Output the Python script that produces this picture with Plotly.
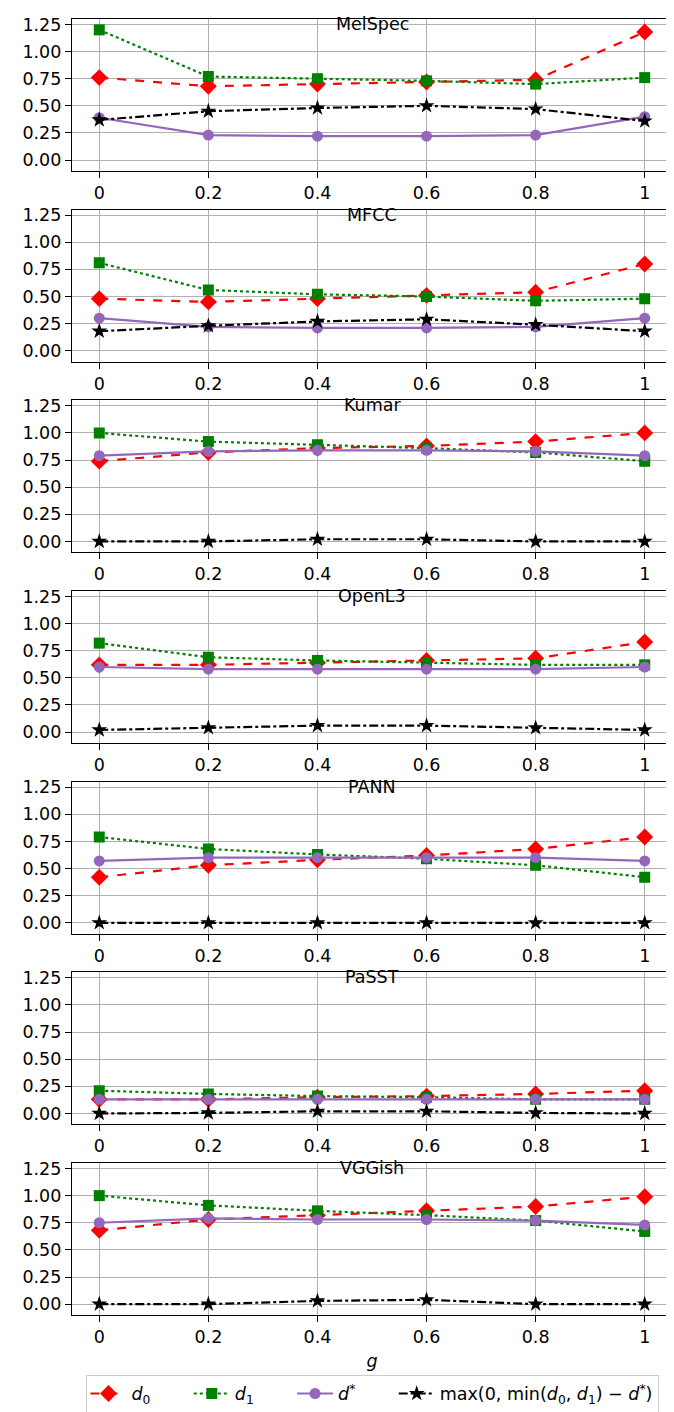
import plotly.graph_objects as go
from plotly.subplots import make_subplots

g = [0, 0.2, 0.4, 0.6, 0.8, 1]
g_labels = ["0", "0.2", "0.4", "0.6", "0.8", "1"]
y_ticks = [0, 0.25, 0.5, 0.75, 1.0, 1.25]
y_labels = ["0.00", "0.25", "0.50", "0.75", "1.00", "1.25"]

panels = ["MelSpec", "MFCC", "Kumar", "OpenL3", "PANN", "PaSST", "VGGish"]

d0 = {
    "MelSpec": [0.76, 0.68, 0.70, 0.72, 0.74, 1.18],
    "MFCC":    [0.48, 0.45, 0.48, 0.51, 0.54, 0.80],
    "Kumar":   [0.74, 0.82, 0.86, 0.88, 0.92, 1.00],
    "OpenL3":  [0.62, 0.62, 0.64, 0.66, 0.68, 0.83],
    "PANN":    [0.42, 0.53, 0.58, 0.62, 0.68, 0.79],
    "PaSST":   [0.13, 0.13, 0.15, 0.16, 0.18, 0.21],
    "VGGish":  [0.68, 0.78, 0.82, 0.86, 0.90, 0.99],
}
d1 = {
    "MelSpec": [1.20, 0.77, 0.75, 0.73, 0.70, 0.76],
    "MFCC":    [0.81, 0.56, 0.52, 0.50, 0.46, 0.48],
    "Kumar":   [1.00, 0.92, 0.89, 0.86, 0.82, 0.74],
    "OpenL3":  [0.82, 0.69, 0.66, 0.64, 0.62, 0.62],
    "PANN":    [0.79, 0.68, 0.63, 0.59, 0.53, 0.42],
    "PaSST":   [0.21, 0.18, 0.16, 0.15, 0.13, 0.13],
    "VGGish":  [1.00, 0.91, 0.86, 0.82, 0.77, 0.67],
}
dstar = {
    "MelSpec": [0.39, 0.23, 0.22, 0.22, 0.23, 0.40],
    "MFCC":    [0.30, 0.22, 0.21, 0.21, 0.22, 0.30],
    "Kumar":   [0.79, 0.83, 0.84, 0.84, 0.83, 0.79],
    "OpenL3":  [0.60, 0.58, 0.58, 0.58, 0.58, 0.60],
    "PANN":    [0.57, 0.60, 0.60, 0.60, 0.60, 0.57],
    "PaSST":   [0.13, 0.13, 0.13, 0.13, 0.13, 0.13],
    "VGGish":  [0.75, 0.79, 0.78, 0.78, 0.77, 0.73],
}
gap = {
    "MelSpec": [0.37, 0.45, 0.48, 0.50, 0.47, 0.36],
    "MFCC":    [0.18, 0.23, 0.27, 0.29, 0.24, 0.18],
    "Kumar":   [0.00, 0.00, 0.02, 0.02, 0.00, 0.00],
    "OpenL3":  [0.02, 0.04, 0.06, 0.06, 0.04, 0.02],
    "PANN":    [0.00, 0.00, 0.00, 0.00, 0.00, 0.00],
    "PaSST":   [0.00, 0.005, 0.02, 0.02, 0.005, 0.00],
    "VGGish":  [0.00, 0.00, 0.03, 0.04, 0.00, 0.00],
}

PAD = "\u00a0" * 6
names = [
    "<i>d</i><sub>0</sub>" + PAD,
    "<i>d</i><sub>1</sub>" + PAD,
    "<i>d</i><sup>*</sup>" + PAD,
    "max(0, min(<i>d</i><sub>0</sub>, <i>d</i><sub>1</sub>) − <i>d</i><sup>*</sup>)",
]
styles = [
    dict(color="#ff0000", dash="dash", symbol="diamond", size=13),
    dict(color="#008000", dash="dot", symbol="square", size=11),
    dict(color="#9467bd", dash="solid", symbol="circle", size=11),
    dict(color="#000000", dash="dashdot", symbol="star", size=12),
]
series = [d0, d1, dstar, gap]

n = len(panels)
fig = make_subplots(rows=n, cols=1, vertical_spacing=0.0299)

FONT = "DejaVu Sans"
FS = 17.5

for i, p in enumerate(panels):
    r = i + 1
    for k, (s, st) in enumerate(zip(series, styles)):
        fig.add_trace(
            go.Scatter(
                x=g, y=s[p], mode="lines+markers", name=names[k],
                line=dict(color=st["color"], dash=st["dash"], width=2.2),
                marker=dict(symbol=st["symbol"], size=st["size"], color=st["color"],
                            line=dict(width=0)),
                showlegend=(i == 0), legendgroup=str(k),
            ),
            row=r, col=1,
        )
    xref = "x domain" if r == 1 else f"x{r} domain"
    yref = "y domain" if r == 1 else f"y{r} domain"
    fig.add_annotation(
        text=p, xref=xref, yref=yref, x=0.5, y=1, xanchor="center", yanchor="top",
        yshift=7, showarrow=False, font=dict(family=FONT, size=FS, color="black"),
    )
    fig.update_xaxes(
        range=[-0.05, 1.05], tickvals=g, ticktext=g_labels,
        showgrid=True, gridcolor="#b0b0b0", gridwidth=1.3,
        showline=True, linecolor="black", linewidth=1.3, mirror=True,
        ticks="outside", ticklen=6, tickwidth=1.3, tickcolor="black",
        zeroline=False, row=r, col=1,
    )
    fig.update_yaxes(
        range=[-0.1, 1.3], tickvals=y_ticks, ticktext=y_labels,
        showgrid=True, gridcolor="#b0b0b0", gridwidth=1.3,
        showline=True, linecolor="black", linewidth=1.3, mirror=True,
        ticks="outside", ticklen=6, tickwidth=1.3, tickcolor="black",
        zeroline=False, row=r, col=1,
    )

fig.update_xaxes(title=dict(text="<i>g</i>", standoff=8,
                            font=dict(family=FONT, size=FS, color="black")),
                 row=n, col=1)

fig.update_layout(
    width=674, height=1412,
    margin=dict(l=63.5, r=9.5, t=7, b=91.5),
    paper_bgcolor="white", plot_bgcolor="white",
    font=dict(family=FONT, size=FS, color="black"),
    legend=dict(
        orientation="h", x=0.5, xanchor="center", y=-0.046, yanchor="top",
        bordercolor="#cccccc", borderwidth=1, bgcolor="white",
        font=dict(family=FONT, size=FS, color="black"),
        itemwidth=36, tracegroupgap=0,
    ),
)

fig.write_html("out.html")
